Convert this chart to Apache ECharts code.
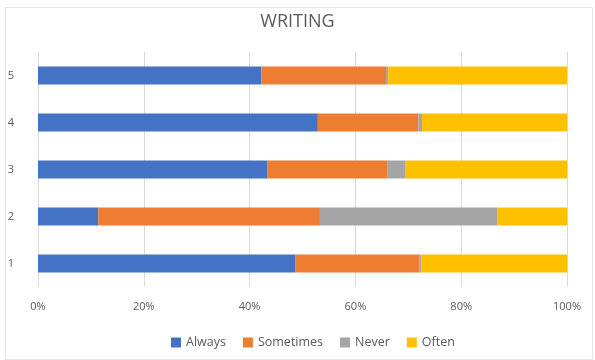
<!DOCTYPE html>
<html>
<head>
<meta charset="utf-8">
<script src="https://cdn.jsdelivr.net/npm/echarts@6/dist/echarts.min.js"></script>
<style>
html,body{margin:0;padding:0;background:#fff;}
#chart{width:595px;height:360px;}
</style>
</head>
<body>
<div id="chart"></div>
<script>
const categories = ['1', '2', '3', '4', '5'];
const always = [48.7, 11.4, 43.4, 52.9, 42.2];
const sometimes = [23.4, 41.9, 22.7, 19.0, 23.6];
const never = [0.4, 33.6, 3.3, 0.7, 0.4];
const often = [27.5, 13.1, 30.6, 27.4, 33.8];
const xTicks = [0, 20, 40, 60, 80, 100];

const colors = ['#4472C4', '#ED7D31', '#A5A5A5', '#FFC000'];
const chart = echarts.init(document.getElementById('chart'), null, {renderer: 'canvas'});
const font = '"Open Sans", "Noto Sans", sans-serif';
function mk(name, data, i) {
  return {name: name, type: 'bar', stack: 'total', data: data, barWidth: 18,
    itemStyle: {color: colors[i]}};
}
chart.setOption({
  animation: false,
  color: colors,
  title: {text: 'WRITING', left: 'center', top: 8,
    textStyle: {fontFamily: font, fontSize: 18, fontWeight: 'normal', color: '#595959'}},
  graphic: [{type: 'rect', shape: {x: 5.5, y: 7.5, width: 587, height: 352},
    style: {fill: 'none', stroke: '#e4e4e4', lineWidth: 1}, silent: true}],
  legend: {top: 331, left: 166, itemWidth: 10, itemHeight: 10, itemGap: 17,
    icon: 'rect',
    textStyle: {fontFamily: font, fontSize: 12.5, color: '#595959'},
    data: ['Always', 'Sometimes', 'Never', 'Often']},
  grid: {left: 38, right: 28, top: 52, height: 235, containLabel: false},
  xAxis: {type: 'value', min: 0, max: 100, interval: 20,
    axisLabel: {formatter: v => xTicks.includes(v) ? v + '%' : '', color: '#595959',
      fontFamily: font, fontSize: 11, margin: 14},
    axisLine: {show: false}, axisTick: {show: false},
    splitLine: {lineStyle: {color: '#d9d9d9'}}},
  yAxis: {type: 'category', data: categories,
    axisLabel: {color: '#595959', fontFamily: font, fontSize: 11, margin: 24},
    axisLine: {show: false}, axisTick: {show: false}},
  series: [mk('Always', always, 0), mk('Sometimes', sometimes, 1), mk('Never', never, 2), mk('Often', often, 3)]
});
</script>
</body>
</html>
